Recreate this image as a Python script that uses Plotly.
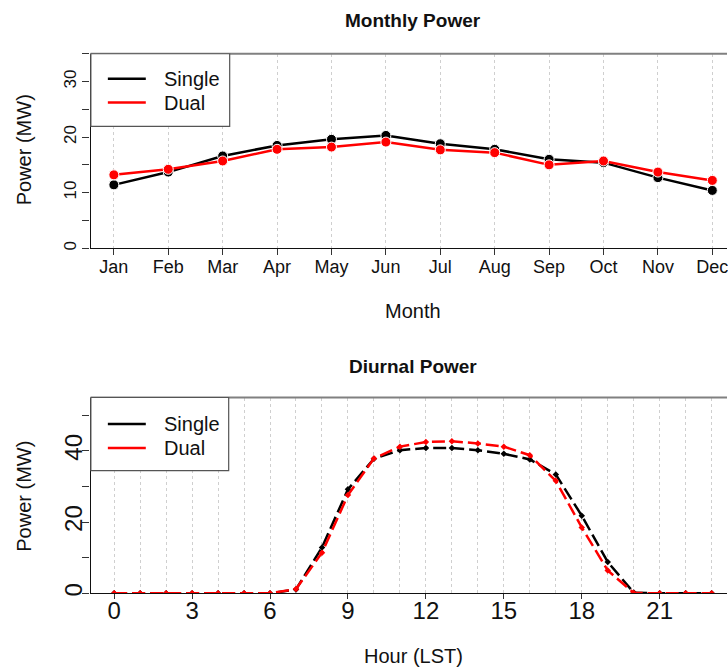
import plotly.graph_objects as go

# ---------------- data ----------------
months = ["Jan", "Feb", "Mar", "Apr", "May", "Jun", "Jul", "Aug", "Sep", "Oct", "Nov", "Dec"]
single_monthly = [11.4, 13.7, 16.6, 18.5, 19.6, 20.3, 18.8, 17.8, 16.0, 15.4, 12.7, 10.4]
dual_monthly = [13.2, 14.2, 15.7, 17.8, 18.2, 19.1, 17.7, 17.2, 15.0, 15.7, 13.7, 12.2]

hours = list(range(24))
single_diurnal = [0, 0, 0, 0, 0, 0, 0, 1.1, 12.9, 29.2, 37.8, 40.2, 40.8, 40.8, 40.2, 39.2, 37.6, 33.4, 21.8, 8.8, 0.2, 0, 0, 0]
dual_diurnal = [0, 0, 0, 0, 0, 0, 0, 1.2, 11.4, 27.6, 37.9, 41.2, 42.5, 42.7, 42.1, 41.2, 38.8, 31.6, 18.5, 6.4, 0.1, 0, 0, 0]

series_names = ["Single", "Dual"]
series_colors = ["#000000", "#ff0000"]

W, H = 728, 670
FONT = "Liberation Sans, Arial, Helvetica, sans-serif"


def px(x):
    return x / W


def py(y):
    return 1 - y / H


fig = go.Figure()

# ---- monthly panel ----
for name, vals, col in zip(series_names, [single_monthly, dual_monthly], series_colors):
    fig.add_trace(go.Scatter(
        x=months, y=vals, mode="lines+markers", name=name, showlegend=False,
        line=dict(color=col, width=2.5),
        marker=dict(color=col, size=10, line=dict(color="white", width=1)),
        xaxis="x", yaxis="y"))

# ---- diurnal panel ----
for name, vals, col in zip(series_names, [single_diurnal, dual_diurnal], series_colors):
    fig.add_trace(go.Scatter(
        x=hours, y=vals, mode="lines+markers", name=name, showlegend=False,
        line=dict(color=col, width=2.5, dash="13px,5px"),
        marker=dict(color=col, size=5, symbol="diamond"),
        xaxis="x2", yaxis="y2"))

grid_col = "#cfcfcf"
axis_common = dict(showline=True, linecolor="#111111", linewidth=1.2, ticks="outside",
                   tickcolor="#333333", zeroline=False, fixedrange=True)

fig.update_layout(
    width=W, height=H, margin=dict(l=0, r=0, t=0, b=0),
    paper_bgcolor="white", plot_bgcolor="white",
    font=dict(family=FONT, color="#111111"),
    xaxis=dict(domain=[px(90.7), 1.0], anchor="y", type="category",
               range=[-0.428, 11.27], showgrid=True, gridcolor=grid_col, griddash="dot",
               gridwidth=1, ticklen=6, tickfont=dict(size=18), ticklabelstandoff=-4,
               **axis_common),
    yaxis=dict(domain=[py(249.3), py(54)], anchor="x", range=[0, 35],
               tickvals=[0, 5, 10, 15, 20, 25, 30, 35],
               ticktext=["0", "", "10", "", "20", "", "30", ""],
               tickangle=-90, showgrid=False, ticklen=7, tickfont=dict(size=17),
               **axis_common),
    xaxis2=dict(domain=[px(90.7), 1.0], anchor="y2",
                range=[-0.907, 23.59], tickvals=[0, 3, 6, 9, 12, 15, 18, 21],
                showgrid=True, gridcolor=grid_col, griddash="dot", gridwidth=1,
                minor=dict(dtick=1, tick0=0, showgrid=True, gridcolor=grid_col,
                           griddash="dot", gridwidth=1, ticks=""),
                ticklen=5, tickfont=dict(size=24), ticklabelstandoff=-9,
                **axis_common),
    yaxis2=dict(domain=[py(596), py(399.3)], anchor="x2", range=[0, 55],
                tickvals=[0, 10, 20, 30, 40, 50],
                ticktext=["0", "", "20", "", "40", ""],
                tickangle=-90, showgrid=False, ticklen=7, tickfont=dict(size=24),
                ticklabelstandoff=-9,
                **axis_common),
)

shapes = []
# top borders of each panel
for xr, yr in [("x domain", "y domain"), ("x2 domain", "y2 domain")]:
    shapes.append(dict(type="line", xref=xr, yref=yr, x0=0, x1=1, y0=1, y1=1,
                       line=dict(color="#808080", width=2)))

annotations = []


def add_text(x, y, text, size, bold=False, angle=0):
    if bold:
        text = "<b>" + text + "</b>"
    annotations.append(dict(x=px(x), y=py(y), xref="paper", yref="paper", text=text,
                            showarrow=False, xanchor="center", yanchor="middle",
                            textangle=angle, font=dict(size=size, family=FONT, color="#111111")))


# titles and axis titles
add_text(414, 21, "Monthly Power", 19, bold=True)
add_text(414, 312, "Month", 20)
add_text(24, 150, "Power (MW)", 20, angle=-90)
add_text(414, 368, "Diurnal Power", 19, bold=True)
add_text(414, 659, "Hour (LST)", 20)
add_text(24, 498, "Power (MW)", 20, angle=-90)

# legends (drawn manually as boxes)
for (bx0, by0, bx1, by1, rows) in [(91, 54, 230, 127, (79, 103)), (91, 399.3, 229, 472.7, (426, 450))]:
    shapes.append(dict(type="rect", xref="paper", yref="paper",
                       x0=px(bx0), x1=px(bx1), y0=py(by1), y1=py(by0),
                       line=dict(color="#555555", width=1.2), fillcolor="white"))
    for name, col, ry in zip(series_names, series_colors, rows):
        shapes.append(dict(type="line", xref="paper", yref="paper",
                           x0=px(108), x1=px(146), y0=py(ry), y1=py(ry),
                           line=dict(color=col, width=2.5)))
        annotations.append(dict(x=px(162), y=py(ry), xref="paper", yref="paper", text=name,
                                showarrow=False, xanchor="left", yanchor="middle",
                                font=dict(size=20, family=FONT, color="#111111")))

fig.update_layout(shapes=shapes, annotations=annotations)

fig.write_html("out.html")
